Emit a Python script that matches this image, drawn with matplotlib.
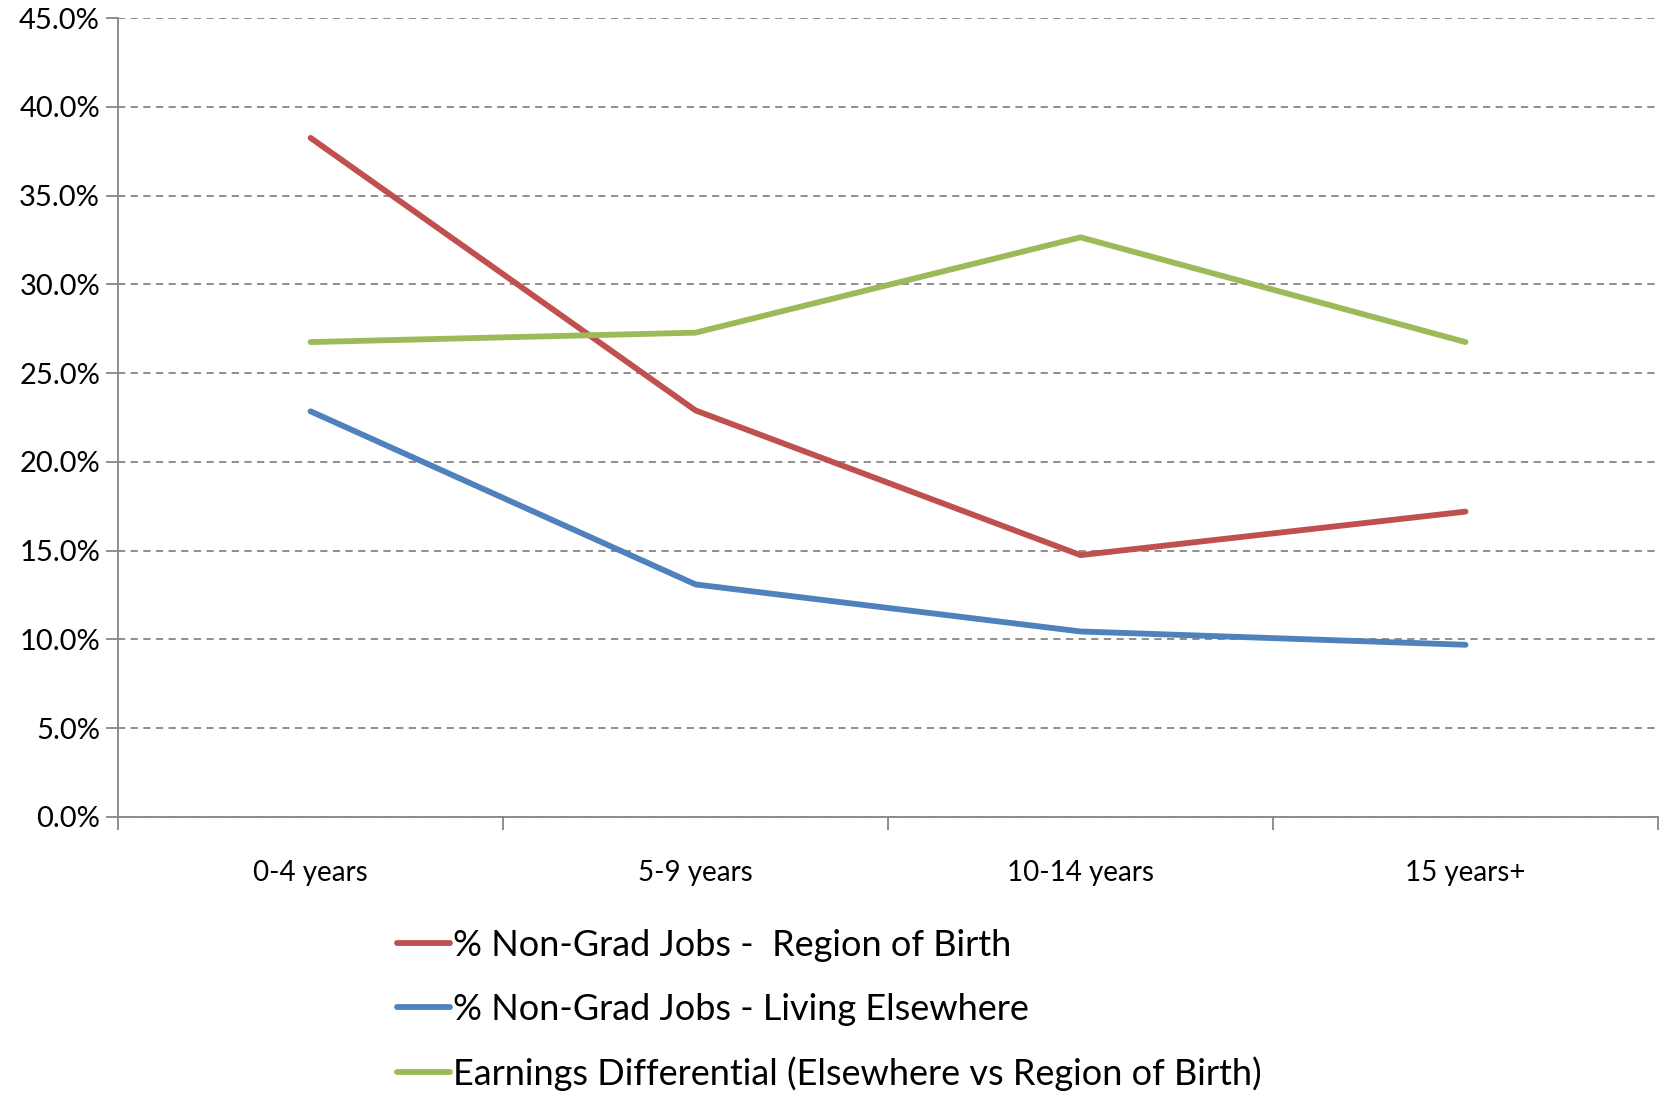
import matplotlib
matplotlib.use('Agg')
import matplotlib.pyplot as plt
from matplotlib import ticker

plt.rcParams['font.family'] = ['Lato', 'DejaVu Sans']

categories = ['0-4 years', '5-9 years', '10-14 years', '15 years+']
non_grad_birth = [38.25, 22.9, 14.75, 17.2]
non_grad_elsewhere = [22.85, 13.1, 10.45, 9.7]
earnings_diff = [26.75, 27.28, 32.65, 26.75]

labels = ['% Non-Grad Jobs -  Region of Birth',
          '% Non-Grad Jobs - Living Elsewhere',
          'Earnings Differential (Elsewhere vs Region of Birth)']
colors = ['#C0504D', '#4F81BD', '#9BBB59']

fig = plt.figure(figsize=(16.63, 10.94), dpi=100)
ax = fig.add_axes([0.071, 0.2532, 0.926, 0.7303])

x = range(len(categories))
for y, lab, c in zip([non_grad_birth, non_grad_elsewhere, earnings_diff], labels, colors):
    ax.plot(x, y, color=c, linewidth=4.2, label=lab, solid_capstyle='round', solid_joinstyle='round')

ax.set_xlim(-0.5, len(categories) - 0.5)
ax.set_ylim(0, 45)
ax.set_yticks([i * 5 for i in range(10)])
ax.yaxis.set_major_formatter(ticker.FuncFormatter(lambda v, p: '%.1f%%' % v))
ax.yaxis.grid(True, linestyle=(0, (4, 3)), color='#868686', linewidth=1.3)
ax.set_axisbelow(True)

# category labels centred, ticks on the boundaries
ax.set_xticks([i - 0.5 for i in range(len(categories) + 1)])
ax.set_xticklabels([])
ax.set_xticks(list(x), minor=True)
ax.set_xticklabels(categories, minor=True)
ax.tick_params(axis='x', which='minor', length=0, pad=31, labelsize=20)
ax.tick_params(axis='x', which='major', length=9, width=1.3, color='#868686', direction='out')
ax.tick_params(axis='y', length=9, width=1.3, color='#868686', labelsize=21, pad=4)

for s in ['top', 'right']:
    ax.spines[s].set_visible(False)
for s in ['left', 'bottom']:
    ax.spines[s].set_color('#868686')
    ax.spines[s].set_linewidth(1.3)

fig.legend(loc='upper left', bbox_to_anchor=(0.239, 0.151), frameon=False,
           fontsize=26, handlelength=1.45, handletextpad=0.1, labelspacing=0.85,
           borderpad=0, borderaxespad=0)

fig.savefig('out.png', dpi=100)
